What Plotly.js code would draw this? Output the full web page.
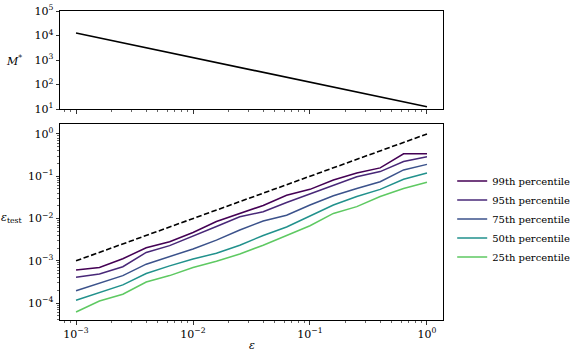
<!DOCTYPE html>
<html>
<head>
<meta charset="utf-8">
<script src="https://cdn.plot.ly/plotly-3.0.1.min.js"></script>
<style>html,body{margin:0;padding:0;background:#fff;}#chart{width:576px;height:360px;}</style>
</head>
<body>
<div id="chart"></div>
<script>
// ---- data ----
const eps = [0.001, 0.001585, 0.002512, 0.003981, 0.00631, 0.01, 0.01585, 0.02512, 0.03981, 0.0631, 0.1, 0.1585, 0.2512, 0.3981, 0.631, 1.0];
const mStar = [12600, 7950, 5020, 3170, 2000, 1260, 795, 502, 317, 200, 126, 79.5, 50.2, 31.7, 20.0, 12.4];
const reference = [0.001, 0.001585, 0.002512, 0.003981, 0.00631, 0.01, 0.01585, 0.02512, 0.03981, 0.0631, 0.1, 0.1585, 0.2512, 0.3981, 0.631, 1.0];
const p99 = [6.03e-4, 6.92e-4, 1.12e-3, 2.04e-3, 2.82e-3, 4.68e-3, 8.51e-3, 0.0129, 0.0204, 0.0355, 0.049, 0.0813, 0.120, 0.158, 0.339, 0.339];
const p95 = [4.07e-4, 4.90e-4, 7.24e-4, 1.58e-3, 2.29e-3, 3.80e-3, 6.46e-3, 0.011, 0.0145, 0.024, 0.038, 0.0617, 0.0977, 0.129, 0.224, 0.288];
const p75 = [1.95e-4, 2.95e-4, 4.47e-4, 8.32e-4, 1.26e-3, 1.91e-3, 3.09e-3, 5.37e-3, 8.71e-3, 0.012, 0.0209, 0.0347, 0.0513, 0.0741, 0.141, 0.191];
const p50 = [1.17e-4, 1.74e-4, 2.69e-4, 5.01e-4, 7.59e-4, 1.10e-3, 1.51e-3, 2.34e-3, 3.98e-3, 6.31e-3, 0.0115, 0.0209, 0.0331, 0.049, 0.0851, 0.120];
const p25 = [6.17e-5, 1.12e-4, 1.62e-4, 3.16e-4, 4.47e-4, 6.92e-4, 9.77e-4, 1.45e-3, 2.34e-3, 3.98e-3, 6.76e-3, 0.0132, 0.0191, 0.0331, 0.0513, 0.0724];
const seriesNames = ['99th percentile', '95th percentile', '75th percentile', '50th percentile', '25th percentile'];
const seriesColors = ['#440154', '#482878', '#3b528b', '#21918c', '#5ec962'];
const xTickVals = [0.001, 0.01, 0.1, 1];
const xTickText = ['10<sup>−3</sup>', '10<sup>−2</sup>', '10<sup>−1</sup>', '10<sup>0</sup>'];
const topTickVals = [10, 100, 1000, 10000, 100000];
const topTickText = ['10<sup>1</sup>', '10<sup>2</sup>', '10<sup>3</sup>', '10<sup>4</sup>', '10<sup>5</sup>'];
const botTickVals = [0.0001, 0.001, 0.01, 0.1, 1];
const botTickText = ['10<sup>−4</sup>', '10<sup>−3</sup>', '10<sup>−2</sup>', '10<sup>−1</sup>', '10<sup>0</sup>'];

function minorTicks(lo, hi) {
  const out = [];
  for (let e = lo; e <= hi; e++) for (let k = 2; k <= 9; k++) out.push(k * Math.pow(10, e));
  return out;
}

const F = 'DejaVu Serif, serif';
const seriesData = [p99, p95, p75, p50, p25];

const traces = [
  {x: eps, y: mStar, xaxis: 'x', yaxis: 'y', mode: 'lines', line: {color: '#000', width: 1.6}, showlegend: false, hoverinfo: 'skip'},
  {x: eps, y: reference, xaxis: 'x2', yaxis: 'y2', mode: 'lines', line: {color: '#000', width: 1.6, dash: '5.5px,2.5px'}, showlegend: false}
];
seriesData.forEach((s, i) => traces.push({
  x: eps, y: s, xaxis: 'x2', yaxis: 'y2', mode: 'lines', name: seriesNames[i],
  line: {color: seriesColors[i], width: 1.5}
}));

const axBase = {
  showline: true, mirror: true, linecolor: '#000', linewidth: 1,
  ticks: 'outside', ticklen: 3.5, tickwidth: 0.8, tickcolor: '#000',
  showgrid: false, zeroline: false,
  tickfont: {family: F, size: 11, color: '#000'}
};
const xRange = [-3.137, 0.137];

const layout = {
  width: 576, height: 360,
  margin: {l: 60, r: 133, t: 11, b: 40, autoexpand: false},
  paper_bgcolor: '#fff', plot_bgcolor: '#fff',
  font: {family: F, color: '#000'},
  xaxis: Object.assign({}, axBase, {
    type: 'log', range: xRange, domain: [0, 1], anchor: 'y',
    tickmode: 'array', tickvals: xTickVals, ticktext: xTickText, showticklabels: false,
    minor: {tickmode: 'array', tickvals: minorTicks(-4, 0), ticks: 'outside', ticklen: 2, tickwidth: 0.6, tickcolor: '#000'}
  }),
  yaxis: Object.assign({}, axBase, {
    type: 'log', range: [1, 5], domain: [0.6828, 1], anchor: 'x',
    tickmode: 'array', tickvals: topTickVals, ticktext: topTickText
  }),
  xaxis2: Object.assign({}, axBase, {
    type: 'log', range: xRange, domain: [0, 1], anchor: 'y2',
    tickmode: 'array', tickvals: xTickVals, ticktext: xTickText,
    minor: {tickmode: 'array', tickvals: minorTicks(-4, 0), ticks: 'outside', ticklen: 2, tickwidth: 0.6, tickcolor: '#000'}
  }),
  yaxis2: Object.assign({}, axBase, {
    type: 'log', range: [-4.40, 0.236], domain: [0, 0.6343], anchor: 'x2',
    tickmode: 'array', tickvals: botTickVals, ticktext: botTickText,
    minor: {tickmode: 'array', tickvals: minorTicks(-5, 0), ticks: 'outside', ticklen: 2, tickwidth: 0.6, tickcolor: '#000'}
  }),
  legend: {
    x: 1.024, xanchor: 'left', y: 0.3265, yanchor: 'middle',
    font: {family: F, size: 10, color: '#000'},
    bgcolor: 'rgba(0,0,0,0)', borderwidth: 0
  },
  annotations: [
    {text: '<i>M</i><sup>*</sup>', xref: 'paper', yref: 'paper', x: -0.094, y: 0.8414, xanchor: 'right', yanchor: 'middle', showarrow: false, font: {family: F, size: 11, color: '#000'}},
    {text: '<i>ε</i><sub>test</sub>', xref: 'paper', yref: 'paper', x: -0.094, y: 0.33, xanchor: 'right', yanchor: 'middle', showarrow: false, font: {family: F, size: 11, color: '#000'}},
    {text: '<i>ε</i>', xref: 'paper', yref: 'paper', x: 0.5, y: -0.081, xanchor: 'center', yanchor: 'middle', showarrow: false, font: {family: F, size: 11, color: '#000'}}
  ]
};

Plotly.newPlot('chart', traces, layout, {staticPlot: true, displayModeBar: false});
</script>
</body>
</html>
